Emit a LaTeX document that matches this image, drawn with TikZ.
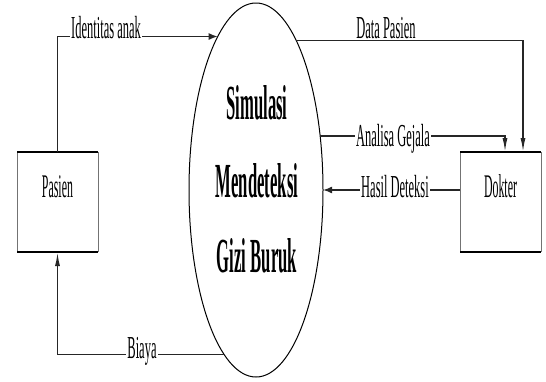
\documentclass[tikz,border=0pt]{standalone}
\usepackage{fontspec}
\setmainfont{Liberation Serif}
\newfontfamily\lblfont[FakeStretch=0.39]{Liberation Serif}
\newfontfamily\entfont[FakeStretch=0.36]{Liberation Serif}
\newfontfamily\procfont[FakeStretch=0.34]{Liberation Serif}
\usetikzlibrary{shapes.geometric,arrows.meta,calc}
\begin{document}
\begin{tikzpicture}[x=1pt,y=-1pt,
  flow/.style={draw=black!85, line width=1.5pt},
  tiph/.style={-{Latex[length=9pt,width=7pt]}},
  tipv/.style={-{Latex[length=14pt,width=5pt]}},
  lbl/.style={fill=white, inner sep=1.5pt, font=\lblfont\fontsize{32}{34}\selectfont},
  boxtxt/.style={anchor=base, inner sep=0pt, font=\entfont\fontsize{33}{35}\selectfont},
  proctxt/.style={anchor=base, inner sep=0pt, font=\procfont\bfseries\fontsize{49}{56}\selectfont},
  entity/.style={minimum width=81pt, minimum height=100pt, inner sep=0pt, outer sep=0pt},
  edgev/.style={draw=black!55, line width=1pt},
  edgeh/.style={draw=black, line width=2.4pt}
]
\useasboundingbox (0,0) rectangle (546,381);
\node[ellipse, draw, line width=1pt, minimum width=134pt, minimum height=374pt, inner sep=0pt, outer sep=0pt] (proc) at (256,190) {};
\node[proctxt] (t1) at (257,119) {Simulasi};
\node[proctxt] (t2) at (257,197) {Mendeteksi};
\node[proctxt] (t3) at (257,272) {Gizi Buruk};

\node[entity] (pas) at (57.5,202) {};
\node[entity] (dok) at (500.5,202) {};
\draw[edgev] (pas.north west) -- (pas.south west) (pas.north east) -- (pas.south east);
\draw[edgev] (dok.north west) -- (dok.south west) (dok.north east) -- (dok.south east);
\draw[edgeh] (pas.north west) -- (pas.north east) (pas.south west) -- (pas.south east);
\draw[edgeh] (dok.north west) -- (dok.north east) (dok.south west) -- (dok.south east);
\node[boxtxt] (pastxt) at (57.5,197) {Pasien};
\node[boxtxt] (doktxt) at (500.5,197) {Dokter};

\draw[flow,tiph] (pas.north) |- (proc.104.12);
\draw[flow,tipv] (proc.75.88) -| ($(dok.north)+(22.5,0)$);
\draw[flow,tipv] (proc.40.7) -| ($(dok.north)+(4.5,0)$);
\draw[flow,tiph] (dok.west |- proc.east) -- (proc.east);
\draw[flow,tipv] (proc.259.19) -| (pas.south);

\node[lbl, anchor=base] (l1) at (106,38) {Identitas anak};
\node[lbl, anchor=base] (l2) at (386,38) {Data Pasien};
\node[lbl, anchor=base] (l3) at (393,146) {Analisa Gejala};
\node[lbl, anchor=base] (l4) at (395,197) {Hasil Deteksi};
\node[lbl, anchor=base] (l5) at (142,358) {Biaya};
\end{tikzpicture}
\end{document}
